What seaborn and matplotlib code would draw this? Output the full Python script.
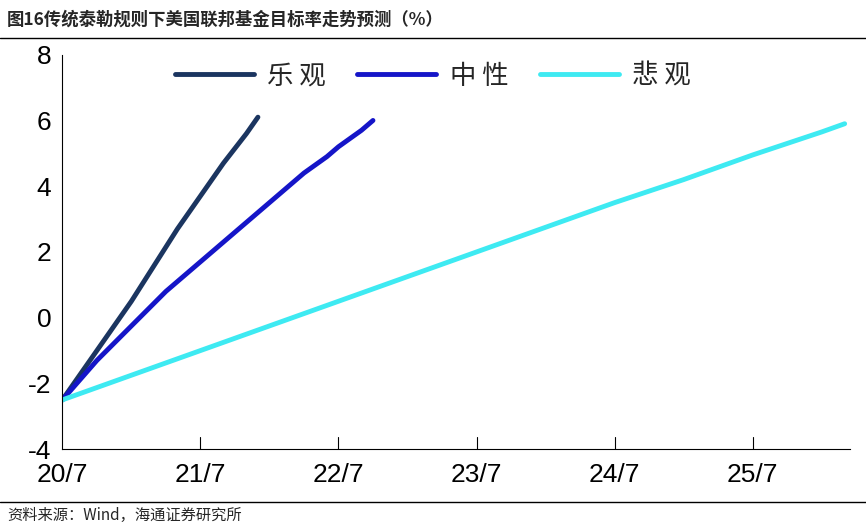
import numpy as np
import pandas as pd
import seaborn as sns
import matplotlib.pyplot as plt
from matplotlib.lines import Line2D

sns.set_theme(style="white")
plt.rcParams['font.family'] = ['Noto Sans CJK SC', 'DejaVu Sans']
plt.rcParams['axes.unicode_minus'] = False

# months since 2020/7
opt_month = list(range(18))
opt_val = [-2.5, -2.0, -1.5, -1.0, -0.5, 0.0, 0.5, 1.05, 1.6, 2.15, 2.7, 3.2,
           3.7, 4.2, 4.7, 5.15, 5.6, 6.1]
neu_month = list(range(28))
neu_val = [-2.5, -2.1, -1.7, -1.3, -0.95, -0.6, -0.25, 0.1, 0.45, 0.8, 1.1, 1.4,
           1.7, 2.0, 2.3, 2.6, 2.9, 3.2, 3.5, 3.8, 4.1, 4.4, 4.65, 4.9, 5.2,
           5.45, 5.7, 6.0]
pes_month = [0, 6, 12, 18, 24, 30, 36, 42, 48, 54, 60, 66, 68]
pes_val = [-2.5, -1.75, -1.0, -0.25, 0.5, 1.25, 2.0, 2.75, 3.5, 4.2, 4.95, 5.65, 5.9]
x_ticks = [0, 12, 24, 36, 48, 60]
x_labels = ["20/7", "21/7", "22/7", "23/7", "24/7", "25/7"]
names = ["乐观", "中性", "悲观"]
colors = ["#1B3560", "#1515C8", "#3EEAF2"]

df = pd.concat([
    pd.DataFrame({"month": opt_month, "rate": opt_val, "scenario": names[0]}),
    pd.DataFrame({"month": neu_month, "rate": neu_val, "scenario": names[1]}),
    pd.DataFrame({"month": pes_month, "rate": pes_val, "scenario": names[2]}),
])

fig = plt.figure(figsize=(8.66, 5.26), dpi=100)
ax = fig.add_axes([0.072, 0.146, 0.91, 0.75])
sns.lineplot(data=df, x="month", y="rate", hue="scenario", palette=colors,
             linewidth=3.5, ax=ax, legend=False)

ax.set_xlim(0, 68.5)
ax.set_ylim(-4, 8)
ax.set_yticks(range(-4, 9, 2))
ax.set_xticks(x_ticks)
ax.set_xticklabels(x_labels)
ax.tick_params(axis="both", labelsize=19, colors="black", length=0)
ax.tick_params(axis="x", pad=10)
ax.tick_params(axis="y", pad=8)
for t in x_ticks[1:]:
    ax.plot([t, t], [-4, -4 + 12 * 0.03], color="black", lw=0.8)
for lbl in ax.get_xticklabels() + ax.get_yticklabels():
    lbl.set_fontfamily("Liberation Sans")
ax.set_xlabel("")
ax.set_ylabel("")
for s in ["top", "right"]:
    ax.spines[s].set_visible(False)
for s in ["left", "bottom"]:
    ax.spines[s].set_color("black")
    ax.spines[s].set_linewidth(0.8)

handles = [Line2D([], [], color=c, lw=3.5) for c in colors]
ax.legend(handles, ["乐 观", "中 性", "悲 观"], loc="upper center",
          bbox_to_anchor=(0.47, 1.04), ncol=3, frameon=False, fontsize=19,
          handlelength=3, columnspacing=1.2, handletextpad=0.5)

fig.text(0.008, 0.962, "图16传统泰勒规则下美国联邦基金目标率走势预测（%）",
         fontsize=12.5, fontweight="bold", va="center")
fig.add_artist(Line2D([0, 1], [0.928, 0.928], color="black", lw=1))
fig.add_artist(Line2D([0, 1], [0.045, 0.045], color="black", lw=1))
fig.text(0.008, 0.02, "资料来源：Wind，海通证券研究所", fontsize=11, va="center")

fig.savefig("out.png", dpi=100)
